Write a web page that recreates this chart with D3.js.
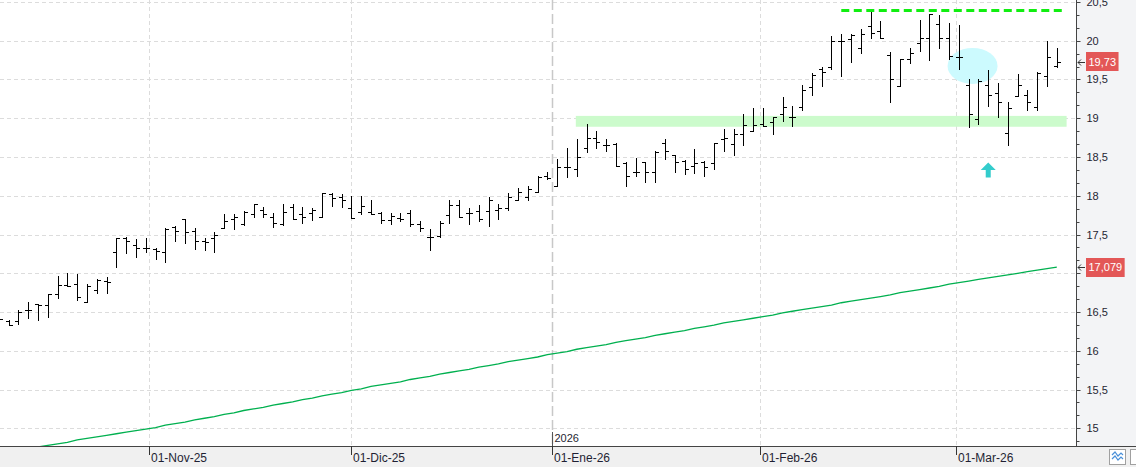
<!DOCTYPE html>
<html><head><meta charset="utf-8">
<script src="https://cdn.jsdelivr.net/npm/d3@7"></script>
<style>html,body{margin:0;padding:0;background:#fff;overflow:hidden}</style>
</head><body><svg id="c" width="1136" height="467"></svg>
<script>
// ---------------- DATA ----------------
const dates = [
"2025-10-10","2025-10-13","2025-10-14","2025-10-15","2025-10-16","2025-10-17","2025-10-20","2025-10-21","2025-10-22","2025-10-23","2025-10-24","2025-10-27","2025-10-28","2025-10-29","2025-10-30","2025-10-31",
"2025-11-03","2025-11-04","2025-11-05","2025-11-06","2025-11-07","2025-11-10","2025-11-11","2025-11-12","2025-11-13","2025-11-14","2025-11-17","2025-11-18","2025-11-19","2025-11-20","2025-11-21","2025-11-24","2025-11-25","2025-11-26","2025-11-27","2025-11-28",
"2025-12-01","2025-12-02","2025-12-03","2025-12-04","2025-12-05","2025-12-08","2025-12-09","2025-12-10","2025-12-11","2025-12-12","2025-12-15","2025-12-16","2025-12-17","2025-12-18","2025-12-19","2025-12-22","2025-12-23","2025-12-24","2025-12-29","2025-12-30","2025-12-31",
"2026-01-02","2026-01-05","2026-01-06","2026-01-07","2026-01-08","2026-01-09","2026-01-12","2026-01-13","2026-01-14","2026-01-15","2026-01-16","2026-01-19","2026-01-20","2026-01-21","2026-01-22","2026-01-23","2026-01-26","2026-01-27","2026-01-28","2026-01-29","2026-01-30",
"2026-02-02","2026-02-03","2026-02-04","2026-02-05","2026-02-06","2026-02-09","2026-02-10","2026-02-11","2026-02-12","2026-02-13","2026-02-16","2026-02-17","2026-02-18","2026-02-19","2026-02-20","2026-02-23","2026-02-24","2026-02-25","2026-02-26","2026-02-27",
"2026-03-02","2026-03-03","2026-03-04","2026-03-05","2026-03-06","2026-03-09","2026-03-10","2026-03-11","2026-03-12","2026-03-13","2026-03-16"
];
const openV = [
16.40,16.39,16.38,16.52,16.60,16.59,16.73,16.85,16.86,16.63,16.79,16.90,17.28,17.46,17.37,17.33,
17.31,17.27,17.60,17.70,17.54,17.42,17.46,17.59,17.70,17.64,17.76,17.81,17.72,17.63,17.85,17.77,17.78,17.73,18.02,17.98,
17.84,17.79,17.79,17.78,17.69,17.71,17.78,17.64,17.47,17.48,17.75,17.88,17.78,17.80,17.80,17.82,17.84,17.95,17.98,18.05,18.25,
18.13,18.37,18.35,18.62,18.74,18.65,18.67,18.42,18.30,18.43,18.30,18.68,18.52,18.45,18.38,18.44,18.42,18.73,18.67,18.80,18.84,
18.93,18.95,19.06,19.01,19.15,19.40,19.64,19.66,20.00,20.02,19.91,20.19,20.13,19.81,19.42,19.76,19.97,20.04,20.22,20.04,
19.79,19.43,18.99,19.43,19.32,18.81,19.29,19.30,19.15,19.54,19.68
];
const highV = [
16.44,16.40,16.53,16.63,16.61,16.73,16.96,17.00,16.99,16.86,16.93,16.95,17.46,17.47,17.44,17.46,
17.33,17.59,17.61,17.70,17.59,17.46,17.53,17.76,17.76,17.80,17.90,17.86,17.78,17.89,17.89,17.85,17.84,18.04,18.03,18.02,
18.00,18.00,17.94,17.79,17.78,17.78,17.82,17.67,17.57,17.67,17.94,17.94,17.84,17.88,17.99,17.89,18.03,18.10,18.13,18.25,18.31,
18.48,18.61,18.73,18.92,18.83,18.73,18.68,18.43,18.49,18.43,18.58,18.73,18.53,18.46,18.60,18.45,18.68,18.86,18.86,19.06,19.13,
19.13,19.02,19.27,19.16,19.43,19.58,19.66,20.06,20.09,20.08,20.15,20.37,20.25,19.86,19.76,19.90,20.27,20.35,20.33,20.23,
20.20,19.50,19.50,19.62,19.45,19.21,19.57,19.37,19.59,19.99,19.91
];
const lowV = [
16.36,16.33,16.35,16.42,16.40,16.44,16.68,16.83,16.66,16.63,16.75,16.75,17.08,17.26,17.21,17.28,
17.19,17.15,17.41,17.39,17.31,17.30,17.28,17.59,17.57,17.62,17.72,17.72,17.60,17.62,17.70,17.65,17.69,17.72,17.87,17.85,
17.71,17.76,17.76,17.65,17.64,17.67,17.61,17.54,17.30,17.47,17.65,17.72,17.64,17.68,17.61,17.70,17.82,17.95,17.94,18.05,18.22,
18.13,18.24,18.25,18.56,18.62,18.58,18.39,18.12,18.25,18.18,18.18,18.48,18.31,18.28,18.29,18.25,18.35,18.58,18.52,18.65,18.83,
18.90,18.80,18.96,18.90,19.11,19.30,19.42,19.64,19.54,19.73,19.84,20.04,20.04,19.21,19.42,19.71,19.87,19.75,19.90,19.76,
19.63,18.89,18.93,19.16,19.02,18.65,19.29,19.10,19.11,19.42,19.66
];
const closeV = [
16.41,16.33,16.50,16.52,16.59,16.73,16.85,16.83,16.70,16.83,16.91,16.89,17.46,17.41,17.33,17.33,
17.29,17.57,17.54,17.53,17.42,17.40,17.49,17.67,17.72,17.79,17.89,17.76,17.65,17.79,17.70,17.73,17.81,18.04,17.97,17.95,
17.71,17.87,17.77,17.69,17.74,17.70,17.64,17.58,17.47,17.65,17.88,17.73,17.78,17.70,17.95,17.84,17.99,18.05,18.09,18.24,18.23,
18.37,18.37,18.50,18.74,18.69,18.65,18.39,18.25,18.31,18.30,18.57,18.58,18.43,18.34,18.42,18.37,18.68,18.74,18.80,18.91,18.91,
18.90,19.01,19.14,19.01,19.36,19.56,19.60,20.00,20.00,20.07,20.08,20.10,20.04,19.51,19.76,19.84,20.04,20.34,20.04,19.80,
19.79,19.06,19.48,19.30,19.21,19.13,19.43,19.21,19.58,19.79,19.73
];
const maV = [
14.68,14.70,14.72,14.74,14.76,14.78,14.80,14.82,14.85,14.87,14.89,14.91,14.93,14.95,14.97,14.99,
15.01,15.04,15.06,15.08,15.11,15.13,15.15,15.18,15.20,15.23,15.25,15.27,15.30,15.32,15.34,15.37,15.39,15.42,15.44,15.46,
15.49,15.51,15.54,15.56,15.58,15.60,15.63,15.65,15.67,15.70,15.72,15.74,15.76,15.79,15.81,15.83,15.86,15.88,15.90,15.92,15.95,
15.97,15.99,16.02,16.04,16.06,16.08,16.11,16.13,16.15,16.17,16.20,16.22,16.24,16.26,16.29,16.31,16.33,16.36,16.38,16.40,16.42,
16.44,16.46,16.49,16.51,16.53,16.55,16.57,16.59,16.62,16.64,16.66,16.68,16.70,16.72,16.75,16.77,16.79,16.81,16.83,16.86,
16.88,16.90,16.92,16.94,16.96,16.98,17.00,17.02,17.04,17.06,17.08
];
const yTickValues = [15,15.5,16,16.5,17,17.5,18,18.5,19,19.5,20,20.5];
const monthStarts = ["2025-11-01","2025-12-01","2026-01-01","2026-02-01","2026-03-01"];
const monthLabels = ["01-Nov-25","01-Dic-25","01-Ene-26","01-Feb-26","01-Mar-26"];
const yearStart = ["2026-01-01"];
const yearLabel = ["2026"];
const lastPriceLabel = ["19,73"];
const maLabel = ["17,079"];
const maLast = [17.079];
// annotations: [fromIndex, toIndex, value(s)]
const resistanceLine = [86.0, 108.9, 20.39];
const supportZone = [58.9, 109.0, 18.89, 19.03];
const highlightEllipse = [99.4, 19.674];
const upArrow = [101.0, 18.43];

// ---------------- LAYOUT ----------------
const W = 1136, H = 467, PR = 1076, PB = 446;
const svg = d3.select("#c");
const FONT = "'Liberation Sans', Arial, sans-serif";

const x = d3.scaleLinear().domain([0, 110]).range([-1.2, 1076.4]);
const y = d3.scaleLinear().domain([14.772, 20.525]).range([PB, 0]);

const parse = d3.timeParse("%Y-%m-%d");
const dts = dates.map(parse);
function dateToIndex(s) {
  const d = parse(s);
  const j = dts.findIndex(t => t >= d);
  if (+dts[j] === +d) return j;
  const a = dts[j - 1], b = dts[j];
  return j - 1 + (d - a) / (b - a);
}
const snap = v => Math.round(v) + 0.5;

// backgrounds
svg.append("rect").attr("x", 0).attr("y", 0).attr("width", W).attr("height", H).attr("fill", "#fff");
svg.append("rect").attr("x", PR + 1).attr("y", 0).attr("width", W - PR - 1).attr("height", PB).attr("fill", "#f3f4f6");
svg.append("rect").attr("x", 0).attr("y", PB).attr("width", W).attr("height", H - PB).attr("fill", "#f0f0f0");

svg.append("defs").append("clipPath").attr("id", "clip")
  .append("rect").attr("x", 0).attr("y", 0).attr("width", PR).attr("height", PB);
const plot = svg.append("g").attr("clip-path", "url(#clip)");

// horizontal grid
plot.selectAll("line.hg").data(yTickValues).join("line")
  .attr("x1", 0).attr("x2", PR).attr("y1", d => snap(y(d))).attr("y2", d => snap(y(d)))
  .attr("stroke", "#dcdcdc").attr("stroke-dasharray", "4,3");

// vertical month grid
const monthIdx = monthStarts.map(dateToIndex);
const yearIdx = yearStart.map(dateToIndex);
plot.selectAll("line.vg").data(monthIdx.filter(v => !yearIdx.some(q => Math.abs(q - v) < 1e-9))).join("line")
  .attr("x1", d => snap(x(d))).attr("x2", d => snap(x(d))).attr("y1", 0).attr("y2", PB)
  .attr("stroke", "#dcdcdc").attr("stroke-dasharray", "4,3");
plot.selectAll("line.yg").data(yearIdx).join("line")
  .attr("x1", d => snap(x(d))).attr("x2", d => snap(x(d))).attr("y1", 0).attr("y2", PB)
  .attr("stroke", "#c8c8c8").attr("stroke-width", 1.5).attr("stroke-dasharray", "10,4");

// support zone (light green band)
plot.append("rect")
  .attr("x", x(supportZone[0])).attr("width", x(supportZone[1]) - x(supportZone[0]))
  .attr("y", y(supportZone[3])).attr("height", y(supportZone[2]) - y(supportZone[3]))
  .attr("fill", "#ccfbcc");

// highlight ellipse
plot.append("ellipse")
  .attr("cx", x(highlightEllipse[0])).attr("cy", y(highlightEllipse[1]))
  .attr("rx", 25).attr("ry", 18).attr("fill", "#ccfafe");

// moving average
plot.append("path").datum(maV)
  .attr("d", d3.line().x((d, i) => x(i)).y(d => y(d)))
  .attr("fill", "none").attr("stroke", "#00b04f").attr("stroke-width", 1.3);

// OHLC bars
const bars = plot.append("g").attr("stroke", "#000").attr("stroke-width", 1).attr("shape-rendering", "crispEdges");
dates.forEach((d, i) => {
  const cx = snap(x(i));
  bars.append("line").attr("x1", cx).attr("x2", cx).attr("y1", Math.round(y(highV[i]))).attr("y2", Math.round(y(lowV[i])) + 1);
  const yo = snap(y(openV[i])), yc = snap(y(closeV[i]));
  bars.append("line").attr("x1", cx - 3.5).attr("x2", cx).attr("y1", yo).attr("y2", yo);
  bars.append("line").attr("x1", cx).attr("x2", cx + 3.5).attr("y1", yc).attr("y2", yc);
});

// resistance dashed line
plot.append("line")
  .attr("x1", x(resistanceLine[0])).attr("x2", x(resistanceLine[1]))
  .attr("y1", y(resistanceLine[2])).attr("y2", y(resistanceLine[2]))
  .attr("stroke", "#11ee11").attr("stroke-width", 3).attr("stroke-dasharray", "8,4.5");

// up arrow
{
  const ax = x(upArrow[0]), ay = y(upArrow[1]);
  plot.append("path")
    .attr("d", `M${ax},${ay} L${ax + 7.5},${ay + 7.5} L${ax + 2.5},${ay + 7.5} L${ax + 2.5},${ay + 15} L${ax - 2.5},${ay + 15} L${ax - 2.5},${ay + 7.5} L${ax - 7.5},${ay + 7.5} Z`)
    .attr("fill", "#33cccc");
}

// axis lines
svg.append("line").attr("x1", 0).attr("x2", W).attr("y1", PB + 0.5).attr("y2", PB + 0.5).attr("stroke", "#444");
svg.append("line").attr("x1", PR + 0.5).attr("x2", PR + 0.5).attr("y1", 0).attr("y2", PB).attr("stroke", "#444");

// y axis
const locale = d3.formatLocale({decimal: ",", thousands: ".", grouping: [3], currency: ["", "€"]});
const fmt = locale.format(".1~f");
const yAxisG = svg.append("g").attr("transform", `translate(${PR + 0.5},0)`)
  .call(d3.axisRight(y).tickValues(yTickValues).tickSize(4).tickPadding(6).tickFormat(fmt));
yAxisG.select(".domain").remove();
yAxisG.selectAll("line").attr("stroke", "#444");
yAxisG.selectAll("text").attr("font-family", FONT).attr("font-size", 11).attr("fill", "#1f1f33");
yAxisG.selectAll(".tick").attr("transform", d => `translate(0,${snap(y(d))})`);
const minor = [];
yTickValues.forEach(v => { minor.push(v + 1 / 6, v + 2 / 6); });
minor.push(yTickValues[0] - 1 / 6);
svg.append("g").selectAll("line").data(minor.filter(v => y(v) > 0 && y(v) < PB)).join("line")
  .attr("x1", PR + 0.5).attr("x2", PR + 3.5).attr("y1", d => snap(y(d))).attr("y2", d => snap(y(d)))
  .attr("stroke", "#444");

// x axis ticks and labels
const xg = svg.append("g");
monthIdx.forEach((mi, k) => {
  const px = snap(x(mi));
  xg.append("line").attr("x1", px).attr("x2", px).attr("y1", PB).attr("y2", PB + 9).attr("stroke", "#333");
  xg.append("text").attr("x", px + 1.5).attr("y", 462).text(monthLabels[k])
    .attr("font-family", FONT).attr("font-size", 12).attr("fill", "#1f1f33");
});
yearIdx.forEach((yi, k) => {
  const px = snap(x(yi));
  xg.append("line").attr("x1", px).attr("x2", px).attr("y1", PB - 14).attr("y2", PB).attr("stroke", "#555");
  xg.append("text").attr("x", px + 2).attr("y", 442).text(yearLabel[k])
    .attr("font-family", FONT).attr("font-size", 11).attr("fill", "#1f1f33");
});

// price labels on right axis
function priceTag(val, label) {
  const cy = y(val);
  const g = svg.append("g");
  const t = g.append("text").attr("x", PR + 12.5).attr("y", cy + 4).text(label)
    .attr("font-family", FONT).attr("font-size", 11).attr("fill", "#fff");
  const w = t.node().getComputedTextLength();
  g.insert("rect", "text").attr("x", PR + 10).attr("y", Math.round(cy - 9.5)).attr("width", w + 5).attr("height", 19)
    .attr("fill", "#e35757");
  g.append("path").attr("d", `M${PR + 9},${snap(cy)} H${PR + 2} M${PR + 5},${snap(cy) - 3} L${PR + 2},${snap(cy)} L${PR + 5},${snap(cy) + 3}`)
    .attr("stroke", "#333").attr("fill", "none");
}
priceTag(closeV[closeV.length - 1], lastPriceLabel[0]);
priceTag(maLast[0], maLabel[0]);

// bottom-right buttons
{
  const b = svg.append("g");
  b.append("rect").attr("x", 1109.5).attr("y", 449.5).attr("width", 16).attr("height", 15).attr("fill", "#fff").attr("stroke", "#a0a0a0");
  b.append("path").attr("d", "M1112,455 L1115,452 L1118,456 L1121,453 L1123,455 M1112,459 L1115,456 L1118,460 L1121,457 L1123,459")
    .attr("fill", "none").attr("stroke", "#4a90d9").attr("stroke-width", 1.2);
  b.append("rect").attr("x", 1130.5).attr("y", 449.5).attr("width", 16).attr("height", 15).attr("fill", "#fff").attr("stroke", "#a0a0a0");
}
</script></body></html>
